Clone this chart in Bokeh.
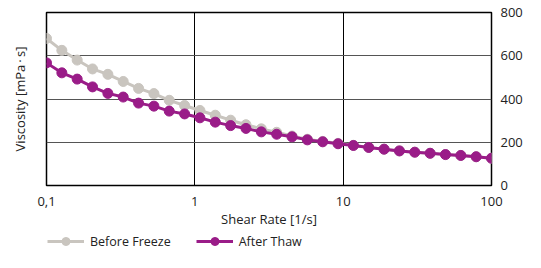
from bokeh.plotting import figure
from bokeh.layouts import column
from bokeh.models import Range1d, LinearAxis, FixedTicker, Legend, LegendItem
from bokeh.embed import file_html
from bokeh.resources import INLINE

# ---- data ----
shear_rate = [0.1, 0.1269, 0.161, 0.2043, 0.2593, 0.329, 0.4175, 0.5298, 0.6723, 0.8532,
              1.0826, 1.3738, 1.7433, 2.2122, 2.8072, 3.5622, 4.5204, 5.7362, 7.279, 9.2367,
              11.721, 14.874, 18.874, 23.95, 30.392, 38.566, 48.939, 62.102, 78.805, 100.0]
before_freeze = [680, 625, 580, 539, 514, 481, 449, 425, 394, 370,
                 347, 325, 302, 281, 262, 246, 229, 214, 204, 195,
                 186, 176, 168, 160, 154, 149, 143, 139, 133, 126]
after_thaw = [567, 521, 492, 456, 426, 409, 381, 367, 344, 331,
              313, 293, 277, 264, 248, 237, 225, 211, 202, 193,
              185, 176, 168, 160, 154, 149, 143, 139, 133, 126]
x_ticks = [0.1, 1, 10, 100]
x_tick_labels = ["0,1", "1", "10", "100"]
y_ticks = [0, 200, 400, 600, 800]
series_names = ["Before Freeze", "After Thaw"]

FONT = "Open Sans"
GRAY = "#C9C5BF"
PURPLE = "#9A1C88"
TXT = "#222222"

p = figure(width=525, height=230, x_axis_type="log", y_axis_location="right",
           x_range=Range1d(0.1, 100), y_range=Range1d(0, 800),
           output_backend="svg", toolbar_location=None,
           min_border_left=46, min_border_right=0, min_border_top=12, min_border_bottom=0)

p.outline_line_color = "black"
p.outline_line_width = 1.5
p.background_fill_color = "white"
p.border_fill_color = "white"

# x axis
xa = p.xaxis[0]
xa.ticker = FixedTicker(ticks=x_ticks)
xa.major_label_overrides = {t: l for t, l in zip(x_ticks, x_tick_labels)}
xa.axis_label = "Shear Rate [1/s]"
xa.axis_line_color = None
xa.major_tick_line_color = None
xa.minor_tick_line_color = None
xa.major_tick_out = 0
xa.major_tick_in = 0
xa.major_label_standoff = 11
xa.axis_label_standoff = 1
xa.major_label_text_font = FONT
xa.major_label_text_font_size = "13px"
xa.major_label_text_color = TXT
xa.axis_label_text_font = FONT
xa.axis_label_text_font_size = "13px"
xa.axis_label_text_font_style = "normal"
xa.axis_label_text_color = TXT

# right y axis
ya = p.yaxis[0]
ya.ticker = FixedTicker(ticks=y_ticks)
ya.axis_line_color = None
ya.major_tick_line_color = None
ya.minor_tick_line_color = None
ya.major_tick_out = 0
ya.major_tick_in = 0
ya.major_label_standoff = 9
ya.major_label_text_font = FONT
ya.major_label_text_font_size = "13px"
ya.major_label_text_color = TXT

# left axis only for the label
la = LinearAxis(ticker=FixedTicker(ticks=[]), axis_label="Viscosity [mPa\u2009·\u2009s]",
                axis_line_color=None, major_tick_line_color=None, minor_tick_line_color=None,
                major_tick_out=0, major_tick_in=0,
                major_label_text_font_size="0px", axis_label_standoff=18,
                axis_label_text_font=FONT, axis_label_text_font_size="13px",
                axis_label_text_font_style="normal", axis_label_text_color=TXT)
p.add_layout(la, "left")

p.xgrid.grid_line_color = "black"
p.xgrid.grid_line_width = 1
p.ygrid.grid_line_color = "#555555"
p.ygrid.grid_line_width = 1.2

p.line(shear_rate, before_freeze, line_color=GRAY, line_width=3)
p.scatter(shear_rate, before_freeze, size=10, fill_color=GRAY, line_color=GRAY)
p.line(shear_rate, after_thaw, line_color=PURPLE, line_width=3)
p.scatter(shear_rate, after_thaw, size=10, fill_color=PURPLE, line_color=PURPLE)

# legend strip (separate figure below the chart; its ranges keep the data out of view)
lg = figure(width=525, height=22, x_axis_location=None, y_axis_location=None,
            x_range=Range1d(-2, -1), y_range=Range1d(-2, -1),
            output_backend="svg", toolbar_location=None,
            min_border_left=0, min_border_right=0, min_border_top=0, min_border_bottom=0)
lg.outline_line_color = None
lg.xgrid.visible = False
lg.ygrid.visible = False
gl1 = lg.line(shear_rate, before_freeze, line_color=GRAY, line_width=3)
gc1 = lg.scatter(shear_rate, before_freeze, size=10, fill_color=GRAY, line_color=GRAY)
gl2 = lg.line(shear_rate, after_thaw, line_color=PURPLE, line_width=3)
gc2 = lg.scatter(shear_rate, after_thaw, size=10, fill_color=PURPLE, line_color=PURPLE)

legend = Legend(items=[LegendItem(label=series_names[0], renderers=[gl1, gc1]),
                       LegendItem(label=series_names[1], renderers=[gl2, gc2])],
                location=(1, 1), orientation="horizontal",
                padding=0, margin=0, spacing=25, glyph_width=37, glyph_height=20,
                label_height=20, label_standoff=6,
                label_text_font=FONT, label_text_font_size="12.5px", label_text_color=TXT,
                border_line_color=None, background_fill_alpha=0)
lg.add_layout(legend, "center")

open("out.html", "w").write(file_html(column(p, lg, spacing=0), INLINE))
